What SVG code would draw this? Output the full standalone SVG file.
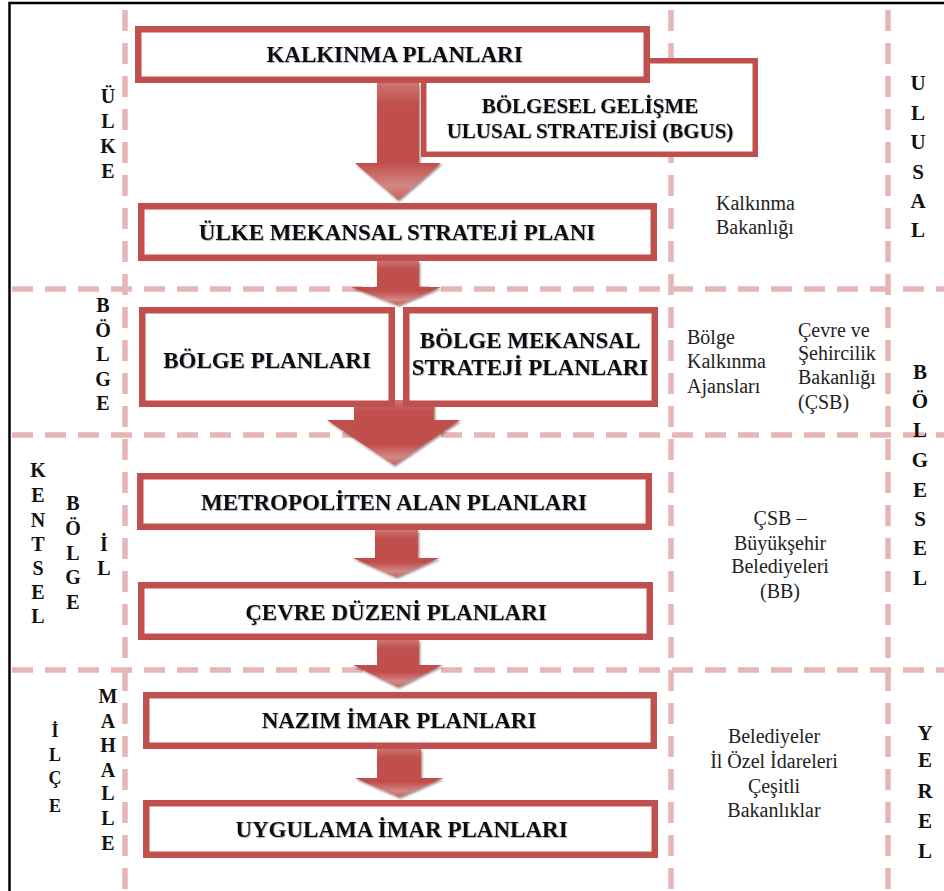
<svg xmlns="http://www.w3.org/2000/svg" width="944" height="891" viewBox="0 0 944 891" font-family="'Liberation Serif', 'DejaVu Serif', serif">
  <style>
    text { font-family: 'Liberation Serif', 'DejaVu Serif', serif; }
    .frame { stroke: #000; stroke-width: 2.5; fill: none; }
    .grid { stroke: #e6b5b5; stroke-width: 5.5; stroke-dasharray: 21 12; fill: none; }
    .box { fill: #fff; stroke: #c0504d; stroke-width: 6.5; }
    .box-thin { fill: #fff; stroke: #c0504d; stroke-width: 5.5; }
    .title { font-weight: bold; font-size: 23px; fill: #111; text-anchor: middle; filter: url(#soft); }
    .sub { font-weight: bold; font-size: 21px; fill: #111; text-anchor: middle; filter: url(#soft); }
    .side { font-weight: bold; font-size: 20px; fill: #111; text-anchor: middle; }
    .side-r { font-weight: bold; font-size: 21px; fill: #111; text-anchor: middle; }
    .org { font-size: 20px; fill: #222; }
    .org-c { font-size: 20px; fill: #222; text-anchor: middle; }
    .arrow { fill: url(#arrowGrad); filter: url(#bevel); }
  </style>
  <defs>
    <filter id="soft" x="-5%" y="-30%" width="110%" height="160%">
      <feDropShadow dx="0.8" dy="0.8" stdDeviation="0.6" flood-color="#3a3a5a" flood-opacity="0.45"/>
    </filter>
    <filter id="bevel" x="-10%" y="-10%" width="125%" height="125%">
      <feDropShadow dx="1.2" dy="1.6" stdDeviation="0.9" flood-color="#4a1614" flood-opacity="0.55"/>
    </filter>
    <linearGradient id="arrowGrad" x1="0" y1="0" x2="0" y2="1">
      <stop offset="0" stop-color="#cd7471"/>
      <stop offset="0.18" stop-color="#c0504d"/>
      <stop offset="0.68" stop-color="#c14e4b"/>
      <stop offset="0.88" stop-color="#d38784"/>
      <stop offset="1" stop-color="#c66663"/>
    </linearGradient>
  </defs>

  <!-- outer frame -->
  <path class="frame" d="M9.5 891 V3 H944"/>

  <!-- zone grid -->
  <g id="grid">
    <line class="grid" x1="125" y1="10" x2="125" y2="891"/>
    <line class="grid" x1="671" y1="10" x2="671" y2="891"/>
    <line class="grid" x1="888" y1="10" x2="888" y2="891"/>
    <line class="grid" x1="12" y1="289" x2="944" y2="289"/>
    <line class="grid" x1="12" y1="435" x2="944" y2="435"/>
    <line class="grid" x1="12" y1="670" x2="944" y2="670"/>
  </g>

  <!-- connectors: block arrows between plan levels -->
  <g id="connectors">
    <path id="arrow-1" class="arrow" d="M377 83 H419 V163 H441 L398 200 L355 163 H377 Z"/>
    <path id="arrow-2" class="arrow" d="M377 261 H419 V287 H441 L398 305 L351 287 H377 Z"/>
    <path id="arrow-3" class="arrow" d="M354 400 H434 V420 H460 L394 465 L327 420 H354 Z"/>
    <path id="arrow-4" class="arrow" d="M375 530 H418 V558 H439 L396 577 L353 558 H375 Z"/>
    <path id="arrow-5" class="arrow" d="M377 640 H419 V665 H442 L398 687 L353 665 H377 Z"/>
    <path id="arrow-6" class="arrow" d="M377 749 H421 V778 H443 L399 797 L355 778 H377 Z"/>
  </g>

  <!-- plan boxes -->
  <g id="bgus">
    <rect class="box-thin" x="423.75" y="60.75" width="331.5" height="93.5"/>
    <text class="sub" x="590" y="113">BÖLGESEL GELİŞME</text>
    <text class="sub" x="590" y="138">ULUSAL STRATEJİSİ (BGUS)</text>
  </g>
  <g id="kalkinma">
    <rect class="box" x="138.25" y="29.25" width="508.5" height="50.5"/>
    <text class="title" x="394.5" y="62">KALKINMA PLANLARI</text>
  </g>
  <g id="ulke-mekansal">
    <rect class="box" x="141.25" y="206.25" width="512.5" height="51.5"/>
    <text class="title" x="397" y="240">ÜLKE MEKANSAL STRATEJİ PLANI</text>
  </g>
  <g id="bolge-planlari">
    <rect class="box" x="142.25" y="310.25" width="249.5" height="93.5"/>
    <text class="title" x="267" y="368">BÖLGE PLANLARI</text>
  </g>
  <g id="bolge-mekansal">
    <rect class="box" x="406.25" y="310.25" width="248.5" height="93.5"/>
    <text class="title" x="530" y="348">BÖLGE MEKANSAL</text>
    <text class="title" x="530" y="375">STRATEJİ PLANLARI</text>
  </g>
  <g id="metropoliten">
    <rect class="box" x="140.25" y="476.25" width="508.5" height="50.5"/>
    <text class="title" x="394" y="510">METROPOLİTEN ALAN PLANLARI</text>
  </g>
  <g id="cevre-duzeni">
    <rect class="box" x="141.25" y="585.25" width="508.5" height="51.5"/>
    <text class="title" x="396" y="620">ÇEVRE DÜZENİ PLANLARI</text>
  </g>
  <g id="nazim-imar">
    <rect class="box" x="146.25" y="695.25" width="507.5" height="50.5"/>
    <text class="title" x="399" y="728">NAZIM İMAR PLANLARI</text>
  </g>
  <g id="uygulama-imar">
    <rect class="box" x="146.25" y="803.25" width="508.5" height="51.5"/>
    <text class="title" x="401.5" y="837">UYGULAMA İMAR PLANLARI</text>
  </g>

  <!-- scale labels, left side -->
  <g id="label-ulke" class="side">
    <text x="108" y="103">Ü</text><text x="108" y="128">L</text><text x="108" y="153">K</text><text x="108" y="178">E</text>
  </g>
  <g id="label-bolge" class="side">
    <text x="103" y="312">B</text><text x="103" y="337">Ö</text><text x="103" y="361">L</text><text x="103" y="386">G</text><text x="103" y="410">E</text>
  </g>
  <g id="label-kentsel" class="side">
    <text x="38" y="477">K</text><text x="38" y="502">E</text><text x="38" y="527">N</text><text x="38" y="551">T</text><text x="38" y="575">S</text><text x="38" y="599">E</text><text x="38" y="623">L</text>
  </g>
  <g id="label-kentsel-bolge" class="side">
    <text x="73" y="510">B</text><text x="73" y="535">Ö</text><text x="73" y="560">L</text><text x="73" y="584">G</text><text x="73" y="609">E</text>
  </g>
  <g id="label-il" class="side">
    <text x="104" y="551">İ</text><text x="104" y="575">L</text>
  </g>
  <g id="label-ilce" class="side" style="font-size:18px">
    <text x="55" y="737">İ</text><text x="55" y="761">L</text><text x="55" y="784">Ç</text><text x="55" y="812">E</text>
  </g>
  <g id="label-mahalle" class="side">
    <text x="108" y="703">M</text><text x="108" y="728">A</text><text x="108" y="752">H</text><text x="108" y="777">A</text><text x="108" y="800">L</text><text x="108" y="825">L</text><text x="108" y="850">E</text>
  </g>

  <!-- scale labels, right side -->
  <g id="label-ulusal" class="side-r">
    <text x="918" y="90">U</text><text x="918" y="120">L</text><text x="918" y="149">U</text><text x="918" y="179">S</text><text x="918" y="208">A</text><text x="918" y="237">L</text>
  </g>
  <g id="label-bolgesel" class="side-r">
    <text x="920" y="379">B</text><text x="920" y="408">Ö</text><text x="920" y="437">L</text><text x="920" y="467">G</text><text x="920" y="497">E</text><text x="920" y="526">S</text><text x="920" y="555">E</text><text x="920" y="585">L</text>
  </g>
  <g id="label-yerel" class="side-r">
    <text x="925" y="740">Y</text><text x="925" y="767">E</text><text x="925" y="798">R</text><text x="925" y="828">E</text><text x="925" y="858">L</text>
  </g>

  <!-- responsible institutions -->
  <g id="org-kalkinma" class="org">
    <text x="716" y="210">Kalkınma</text>
    <text x="716" y="234">Bakanlığı</text>
  </g>
  <g id="org-ajanslar" class="org">
    <text x="687" y="344">Bölge</text>
    <text x="687" y="368">Kalkınma</text>
    <text x="687" y="393">Ajansları</text>
  </g>
  <g id="org-csb" class="org">
    <text x="798" y="337">Çevre ve</text>
    <text x="798" y="360">Şehircilik</text>
    <text x="798" y="384">Bakanlığı</text>
    <text x="798" y="409">(ÇSB)</text>
  </g>
  <g id="org-bb" class="org-c">
    <text x="780" y="525">ÇSB –</text>
    <text x="780" y="550">Büyükşehir</text>
    <text x="780" y="573">Belediyeleri</text>
    <text x="780" y="598">(BB)</text>
  </g>
  <g id="org-yerel" class="org-c">
    <text x="774" y="743">Belediyeler</text>
    <text x="774" y="768">İl Özel İdareleri</text>
    <text x="774" y="793">Çeşitli</text>
    <text x="774" y="817">Bakanlıklar</text>
  </g>
</svg>
